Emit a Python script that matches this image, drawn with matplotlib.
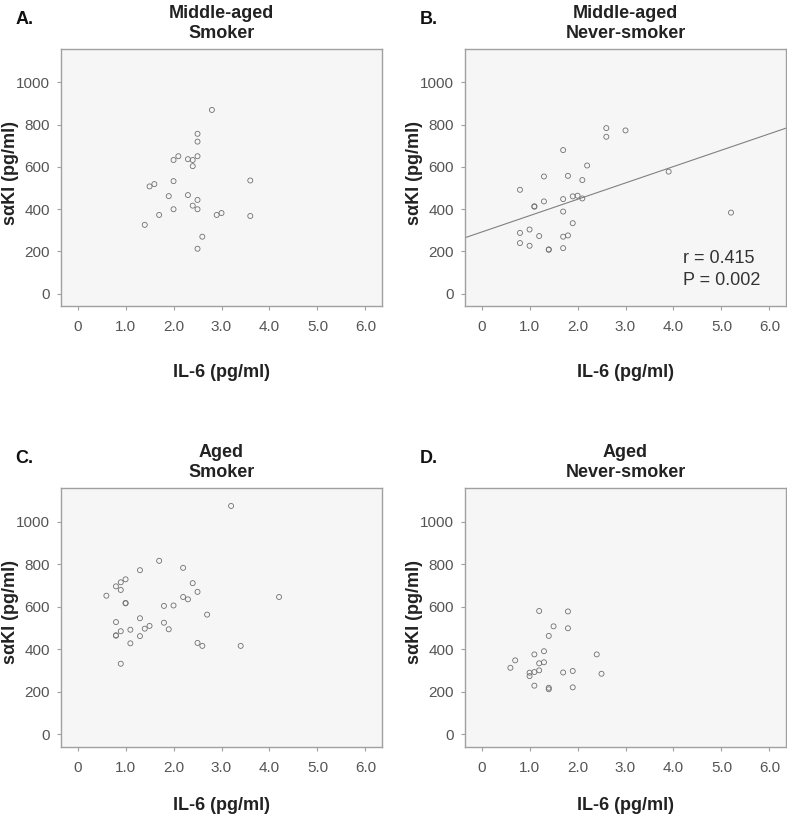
import numpy as np
import matplotlib
matplotlib.use("Agg")
import matplotlib.pyplot as plt

plt.rcParams['font.family'] = ['Liberation Sans', 'DejaVu Sans']

# Panel A: middle-aged smokers
a_il6 = [2.8, 2.5, 2.5, 2.5, 2.0, 2.1, 2.3, 2.4, 2.4, 2.0, 3.6, 1.5, 1.6,
         1.9, 2.3, 2.5, 2.4, 2.0, 2.5, 1.7, 2.9, 3.0, 3.6, 1.4, 2.6, 2.5]
a_saki = [870, 757, 720, 651, 633, 651, 637, 633, 604, 533, 536, 508, 519,
          462, 467, 444, 417, 400, 400, 373, 373, 382, 368, 326, 270, 213]

# Panel B: middle-aged never-smokers
b_il6 = [2.6, 2.6, 3.0, 1.7, 2.2, 3.9, 1.3, 1.8, 2.1, 0.8, 1.3, 1.1, 1.1,
         1.7, 1.9, 2.0, 2.1, 1.7, 1.9, 0.8, 1.0, 1.2, 1.7, 1.8, 0.8, 1.0,
         1.4, 1.4, 1.7, 5.2]
b_saki = [784, 743, 773, 680, 607, 578, 555, 558, 538, 492, 437, 414, 412,
          448, 461, 464, 451, 389, 334, 288, 304, 273, 270, 276, 240, 227,
          210, 208, 216, 384]
b_fit_intercept = 292
b_fit_slope = 77.5
b_r_text = "r = 0.415"
b_p_text = "P = 0.002"

# Panel C: aged smokers
c_il6 = [3.2, 1.7, 2.2, 1.3, 1.0, 0.9, 0.8, 0.9, 2.4, 2.5, 0.6, 2.2, 2.3,
         4.2, 1.0, 1.0, 1.8, 2.0, 2.7, 1.3, 0.8, 1.8, 1.5, 1.4, 0.9, 1.1,
         1.9, 0.8, 0.8, 1.3, 1.1, 2.5, 2.6, 3.4, 0.9]
c_saki = [1074, 816, 783, 772, 729, 715, 696, 679, 711, 670, 652, 646, 635,
          646, 616, 618, 604, 606, 563, 546, 528, 525, 510, 497, 485, 492,
          494, 464, 466, 462, 428, 430, 416, 416, 332]

# Panel D: aged never-smokers
d_il6 = [1.2, 1.8, 1.5, 1.8, 1.4, 1.1, 1.3, 2.4, 0.7, 1.2, 1.3, 0.6, 1.2,
         1.1, 1.0, 1.0, 1.7, 1.9, 2.5, 1.1, 1.4, 1.4, 1.9]
d_saki = [580, 578, 508, 499, 463, 376, 391, 376, 348, 334, 339, 313, 301,
          293, 290, 274, 291, 298, 285, 229, 219, 212, 221]

panels = [
    ("A.", "Middle-aged\nSmoker", a_il6, a_saki),
    ("B.", "Middle-aged\nNever-smoker", b_il6, b_saki),
    ("C.", "Aged\nSmoker", c_il6, c_saki),
    ("D.", "Aged\nNever-smoker", d_il6, d_saki),
]

W, H = 787, 821
fig = plt.figure(figsize=(W / 100, H / 100), dpi=100)

# axes boxes in pixels: left, top, right, bottom
boxes = [(61.3, 49.3, 381.7, 306.0),
         (465.3, 49.3, 785.7, 306.0),
         (61.3, 488.3, 381.7, 746.7),
         (465.3, 488.3, 785.7, 746.7)]
xlabel_pads = [22, 22, 16, 16]

axis_grey = '#a0a0a0'
tick_grey = '#555555'

for (letter, title, xs, ys), (l, t, r, b), lp in zip(panels, boxes, xlabel_pads):
    ax = fig.add_axes([l / W, 1 - b / H, (r - l) / W, (b - t) / H])
    ax.set_facecolor('#f6f6f6')
    ax.scatter(xs, ys, s=13, facecolors='none', edgecolors='#707070',
               linewidths=0.6, zorder=3)
    ax.set_xlim(-0.34, 6.34)
    ax.set_ylim(-58, 1157)
    ax.set_xticks(np.arange(0, 7, 1))
    ax.set_xticklabels(['0'] + [f'{v:.1f}' for v in range(1, 7)])
    ax.set_yticks(np.arange(0, 1001, 200))
    ax.tick_params(length=3, width=0.8, color=axis_grey, labelcolor=tick_grey,
                   labelsize=11, pad=5)
    ax.tick_params(axis='x', pad=7)
    for sp in ax.spines.values():
        sp.set_color(axis_grey)
        sp.set_linewidth(1.0)
    ax.set_xlabel('IL-6 (pg/ml)', fontsize=13, fontweight='bold',
                  color='#222222', labelpad=lp)
    ax.set_ylabel('s\u03b1KI (pg/ml)', fontsize=13, fontweight='bold',
                  color='#222222', va='center')
    # ylabel centre sits about 51 px left of the axes box
    ax.yaxis.set_label_coords(-51 / (r - l), 0.52)
    ax.set_title(title, fontsize=13, fontweight='bold', color='#222222',
                 pad=8, linespacing=1.25)
    fig.text((l - 46) / W, 1 - (t - 30) / H, letter, fontsize=13,
             fontweight='bold', color='#111111', ha='left', va='center')

    if letter == "B.":
        xl = np.array(ax.get_xlim())
        ax.plot(xl, b_fit_intercept + b_fit_slope * xl, color='#808080',
                linewidth=0.8, zorder=2)
        ax.text(4.2, 166, b_r_text, fontsize=13, color='#333333',
                ha='left', va='center')
        ax.text(4.2, 63, b_p_text, fontsize=13, color='#333333',
                ha='left', va='center')

fig.savefig('out.png', dpi=100)
